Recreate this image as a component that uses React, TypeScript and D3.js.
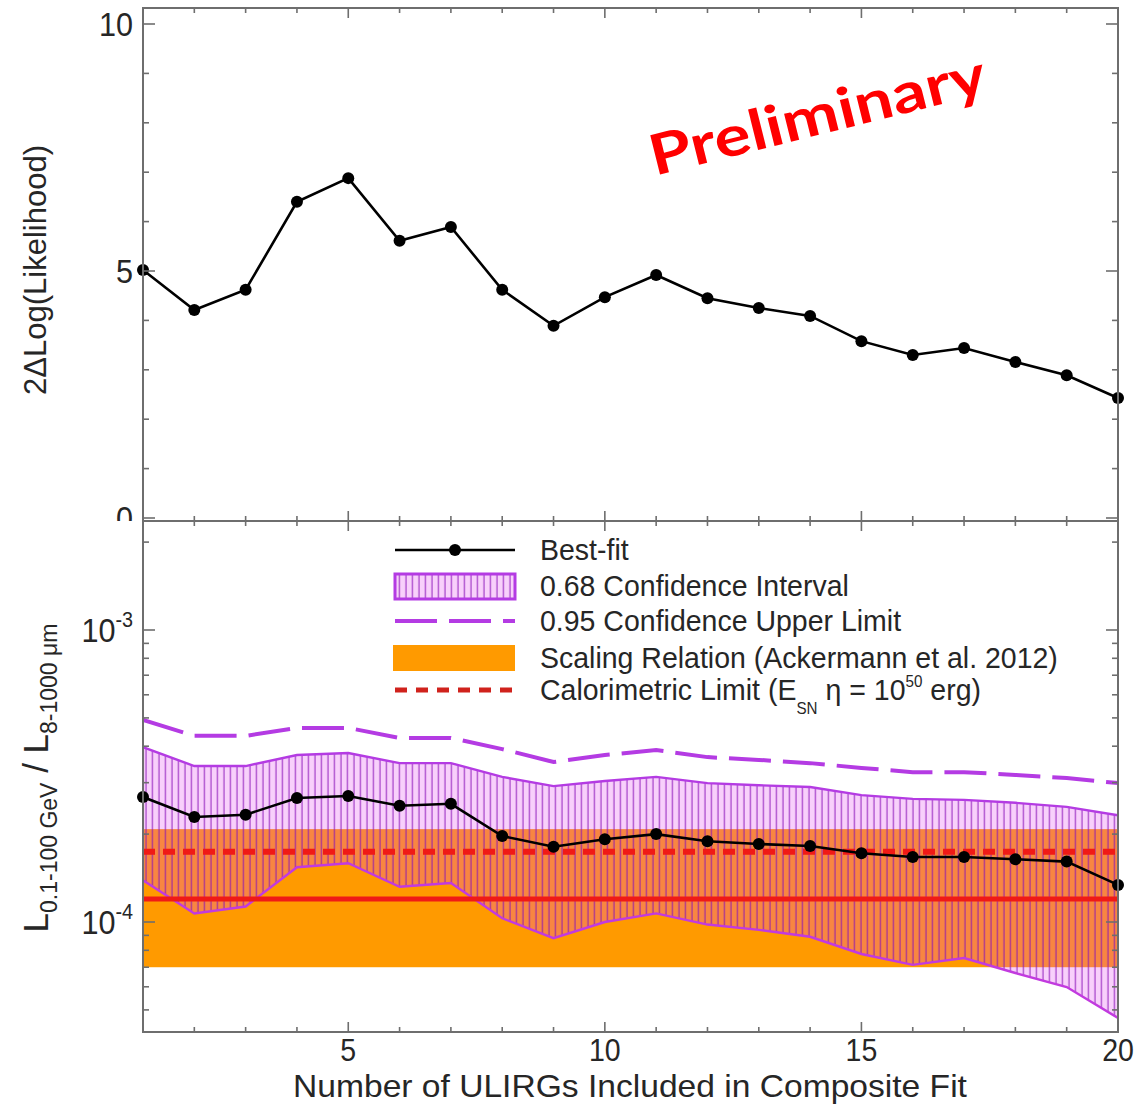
import React from "react";
import * as d3 from "d3";

// Number of ULIRGs stacked in the composite fit
const ulirgCount = [1, 2, 3, 4, 5, 6, 7, 8, 9, 10, 11, 12, 13, 14, 15, 16, 17, 18, 19, 20];

// Upper panel: 2ΔLog(Likelihood) of the composite fit
const twoDeltaLogL = [5.02, 4.21, 4.62, 6.4, 6.88, 5.61, 5.89, 4.62, 3.89, 4.47, 4.92, 4.45, 4.25, 4.09, 3.58, 3.3, 3.44, 3.16, 2.89, 2.43];

// Lower panel: gamma-ray to IR luminosity ratio
const bestFit = [2.68e-4, 2.29e-4, 2.33e-4, 2.66e-4, 2.7e-4, 2.5e-4, 2.54e-4, 1.97e-4, 1.81e-4, 1.92e-4, 2.0e-4, 1.89e-4, 1.85e-4, 1.82e-4, 1.72e-4, 1.67e-4, 1.67e-4, 1.64e-4, 1.61e-4, 1.34e-4];
const ci68Upper = [3.97e-4, 3.42e-4, 3.42e-4, 3.73e-4, 3.79e-4, 3.5e-4, 3.5e-4, 3.14e-4, 2.92e-4, 3.04e-4, 3.14e-4, 2.99e-4, 2.94e-4, 2.9e-4, 2.72e-4, 2.64e-4, 2.62e-4, 2.56e-4, 2.48e-4, 2.32e-4];
const ci68Lower = [1.39e-4, 1.07e-4, 1.13e-4, 1.54e-4, 1.59e-4, 1.32e-4, 1.36e-4, 1.03e-4, 8.8e-5, 1.0e-4, 1.07e-4, 9.8e-5, 9.4e-5, 8.9e-5, 7.77e-5, 7.13e-5, 7.53e-5, 6.69e-5, 5.99e-5, 4.69e-5];
const ul95 = [4.92e-4, 4.34e-4, 4.34e-4, 4.62e-4, 4.62e-4, 4.27e-4, 4.27e-4, 3.91e-4, 3.53e-4, 3.73e-4, 3.88e-4, 3.67e-4, 3.59e-4, 3.5e-4, 3.37e-4, 3.26e-4, 3.26e-4, 3.19e-4, 3.11e-4, 2.99e-4];

// Scaling relation (Ackermann et al. 2012): band and central value
const scalingBand = [7.0e-5, 2.08e-4];
const scalingCentral = 1.2e-4;
// Calorimetric limit (E_SN η = 10^50 erg)
const calorimetricLimit = 1.74e-4;

const xTickLabels = [5, 10, 15, 20];
const topYTickLabels = [0, 5, 10];
const botYTickExponents = [-4, -3];

const FONT = "'Liberation Sans', Arial, Helvetica, sans-serif";
const AXIS = "#6e6e6e";
const TEXT = "#262626";
const VIOLET = "#b43be3";
const RED = "#f01a16";
const ORANGE = "#ff9a00";

export default function App() {
  const W = 1137;
  const H = 1104;
  const left = 143;
  const right = 1118;
  const topY0 = 8;
  const mid = 521;
  const botY1 = 1032;

  const x = d3.scaleLinear().domain([1, 20]).range([left, right]);
  const yTop = d3.scaleLinear().domain([0, 10]).range([518, 24]);
  const yBot = d3.scaleLog().domain([1e-4, 1e-3]).range([922, 630]);

  const botMin = yBot.invert(botY1);
  const botMax = yBot.invert(mid);

  const topLine = d3
    .line<number>()
    .x((_, i) => x(ulirgCount[i]))
    .y((d) => yTop(d));
  const logLine = d3
    .line<number>()
    .x((_, i) => x(ulirgCount[i]))
    .y((d) => yBot(d));
  const ciArea = d3
    .area<number>()
    .x((_, i) => x(ulirgCount[i]))
    .y0((_, i) => yBot(ci68Lower[i]))
    .y1((d) => yBot(d));

  // log-axis ticks (major at decades, minor at 2..9)
  const logTicks: { v: number; major: boolean }[] = [];
  for (let e = -5; e <= -2; e++) {
    for (let m = 1; m <= 9; m++) {
      const v = m * Math.pow(10, e);
      if (v >= botMin && v <= botMax) logTicks.push({ v, major: m === 1 });
    }
  }
  const topTicks = d3.range(0, 11);

  const xTickMarks = (yEdge: number, dir: number) =>
    ulirgCount.map((c) => {
      const len = xTickLabels.includes(c) ? 10 : 5;
      return (
        <line
          key={`xt-${yEdge}-${dir}-${c}`}
          x1={x(c)}
          x2={x(c)}
          y1={yEdge}
          y2={yEdge + dir * len}
          stroke={AXIS}
          strokeWidth={1.6}
        />
      );
    });

  const legendX0 = 395;
  const legendX1 = 515;
  const legendTextX = 540;
  const rows = [550, 586, 621, 658, 690];

  return (
    <svg
      width={W}
      height={H}
      viewBox={`0 0 ${W} ${H}`}
      style={{ position: "absolute", left: 0, top: 0, background: "#fff" }}
      fontFamily={FONT}
    >
      <defs>
        <clipPath id="botClip">
          <rect x={left} y={mid} width={right - left} height={botY1 - mid} />
        </clipPath>
        <clipPath id="topLabelClip">
          <rect x={0} y={0} width={W} height={mid} />
        </clipPath>
        <pattern id="vhatch" width={6.5} height={10} patternUnits="userSpaceOnUse">
          <line x1={3} y1={0} x2={3} y2={10} stroke="#8a10b8" strokeWidth={1.3} strokeOpacity={0.72} />
        </pattern>
      </defs>

      <rect x={0} y={0} width={W} height={H} fill="#fff" />

      {/* ---------- upper panel ---------- */}
      <path d={topLine(twoDeltaLogL) ?? ""} fill="none" stroke="#000" strokeWidth={2.6} />
      {twoDeltaLogL.map((d, i) => (
        <circle key={`tp${i}`} cx={x(ulirgCount[i])} cy={yTop(d)} r={6} fill="#000" />
      ))}
      <rect x={left} y={topY0} width={right - left} height={mid - topY0} fill="none" stroke={AXIS} strokeWidth={2} />
      {topTicks.map((t) => {
        const len = topYTickLabels.includes(t) ? 12 : 6;
        return (
          <g key={`yt${t}`}>
            <line x1={left} x2={left + len} y1={yTop(t)} y2={yTop(t)} stroke={AXIS} strokeWidth={1.6} />
            <line x1={right} x2={right - len} y1={yTop(t)} y2={yTop(t)} stroke={AXIS} strokeWidth={1.6} />
          </g>
        );
      })}
      {xTickMarks(topY0, 1)}
      <g clipPath="url(#topLabelClip)">
        {topYTickLabels.map((t) => (
          <text
            key={`ytl${t}`}
            transform={`translate(133,${yTop(t) + 12}) scale(0.9,1)`}
            textAnchor="end"
            fontSize={34}
            fill={TEXT}
          >
            {t}
          </text>
        ))}
      </g>
      <text
        transform="translate(46,270) rotate(-90)"
        textAnchor="middle"
        fontSize={31}
        fill={TEXT}
      >
        2ΔLog(Likelihood)
      </text>

      {/* Preliminary stamp */}
      <text
        transform="translate(822,134) rotate(-14)"
        textAnchor="middle"
        fontFamily="Lato, 'Open Sans', sans-serif"
        fontWeight={700}
        fontSize={56}
        textLength={345}
        lengthAdjust="spacingAndGlyphs"
        fill="#ff0000"
      >
        Preliminary
      </text>

      {/* ---------- lower panel ---------- */}
      <rect x={left} y={mid} width={right - left} height={botY1 - mid} fill="#fff" />
      <g clipPath="url(#botClip)">
        <rect
          x={left}
          y={yBot(scalingBand[1])}
          width={right - left}
          height={yBot(scalingBand[0]) - yBot(scalingBand[1])}
          fill={ORANGE}
        />
        <path d={ciArea(ci68Upper) ?? ""} fill="#e650f0" fillOpacity={0.27} />
        <path d={ciArea(ci68Upper) ?? ""} fill="url(#vhatch)" />
        <path d={logLine(ci68Upper) ?? ""} fill="none" stroke={VIOLET} strokeWidth={2.4} />
        <path d={logLine(ci68Lower) ?? ""} fill="none" stroke="#c23adf" strokeWidth={2.4} />
        <line x1={left} x2={right} y1={yBot(scalingCentral)} y2={yBot(scalingCentral)} stroke={RED} strokeWidth={5} />
        <line
          x1={left}
          x2={right}
          y1={yBot(calorimetricLimit)}
          y2={yBot(calorimetricLimit)}
          stroke={RED}
          strokeWidth={6}
          strokeDasharray="12 8"
        />
        <path
          d={logLine(ul95) ?? ""}
          fill="none"
          stroke={VIOLET}
          strokeWidth={4}
          strokeDasharray="42 12"
        />
        <path d={logLine(bestFit) ?? ""} fill="none" stroke="#000" strokeWidth={2.6} />
      </g>
      {bestFit.map((d, i) => (
        <circle key={`bp${i}`} cx={x(ulirgCount[i])} cy={yBot(d)} r={6} fill="#000" />
      ))}
      <rect x={left} y={mid} width={right - left} height={botY1 - mid} fill="none" stroke={AXIS} strokeWidth={2} />
      {logTicks.map((t, i) => {
        const len = t.major ? 12 : 6;
        return (
          <g key={`lt${i}`}>
            <line x1={left} x2={left + len} y1={yBot(t.v)} y2={yBot(t.v)} stroke={AXIS} strokeWidth={1.6} />
            <line x1={right} x2={right - len} y1={yBot(t.v)} y2={yBot(t.v)} stroke={AXIS} strokeWidth={1.6} />
          </g>
        );
      })}
      {xTickMarks(mid, 1)}
      {xTickMarks(mid, -1)}
      {xTickMarks(botY1, -1)}
      {botYTickExponents.map((e) => (
        <text
          key={`lyl${e}`}
          transform={`translate(133,${yBot(Math.pow(10, e)) + 12}) scale(0.9,1)`}
          textAnchor="end"
          fontSize={34}
          fill={TEXT}
        >
          10
          <tspan fontSize={22} dy={-15}>
            {e}
          </tspan>
        </text>
      ))}
      <text transform="translate(48,778) rotate(-90)" textAnchor="middle" fontSize={35} fill={TEXT}>
        L
        <tspan fontSize={23} dy={9}>
          0.1-100 GeV
        </tspan>
        <tspan dy={-9}> / L</tspan>
        <tspan fontSize={23} dy={9}>
          8-1000 μm
        </tspan>
      </text>

      {/* x axis labels */}
      {xTickLabels.map((t) => (
        <text
          key={`xl${t}`}
          transform={`translate(${x(t)},1061) scale(0.92,1)`}
          textAnchor="middle"
          fontSize={31}
          fill={TEXT}
        >
          {t}
        </text>
      ))}
      <text
        transform="translate(630,1097) scale(1.05,1)"
        textAnchor="middle"
        fontSize={32}
        fill={TEXT}
      >
        Number of ULIRGs Included in Composite Fit
      </text>

      {/* ---------- legend ---------- */}
      <g>
        <line x1={legendX0} x2={legendX1} y1={rows[0]} y2={rows[0]} stroke="#000" strokeWidth={2.6} />
        <circle cx={(legendX0 + legendX1) / 2} cy={rows[0]} r={6} fill="#000" />

        <rect x={legendX0} y={rows[1] - 12} width={legendX1 - legendX0} height={25} fill="#e650f0" fillOpacity={0.27} />
        <rect x={legendX0} y={rows[1] - 12} width={legendX1 - legendX0} height={25} fill="url(#vhatch)" />
        <rect
          x={legendX0}
          y={rows[1] - 12}
          width={legendX1 - legendX0}
          height={25}
          fill="none"
          stroke={VIOLET}
          strokeWidth={3}
        />

        <line
          x1={legendX0}
          x2={legendX1}
          y1={rows[2]}
          y2={rows[2]}
          stroke={VIOLET}
          strokeWidth={4}
          strokeDasharray="42 12"
        />

        <rect x={legendX0 - 2} y={rows[3] - 13} width={legendX1 - legendX0 + 2} height={26} fill={ORANGE} />

        <line
          x1={legendX0}
          x2={legendX1}
          y1={rows[4]}
          y2={rows[4]}
          stroke="#d0221c"
          strokeWidth={5}
          strokeDasharray="12 9"
        />

        {[
          "Best-fit",
          "0.68 Confidence Interval",
          "0.95 Confidence Upper Limit",
          "Scaling Relation (Ackermann et al. 2012)",
        ].map((s, i) => (
          <text
            key={`lg${i}`}
            transform={`translate(${legendTextX},${rows[i] + 10}) scale(0.95,1)`}
            fontSize={30}
            fill={TEXT}
          >
            {s}
          </text>
        ))}
        <text transform={`translate(${legendTextX},${rows[4] + 10}) scale(0.95,1)`} fontSize={30} fill={TEXT}>
          Calorimetric Limit (E
          <tspan fontSize={16} dy={14}>
            SN
          </tspan>
          <tspan dy={-14}> η = 10</tspan>
          <tspan fontSize={16} dy={-13}>
            50
          </tspan>
          <tspan dy={13}> erg)</tspan>
        </text>
      </g>
    </svg>
  );
}
